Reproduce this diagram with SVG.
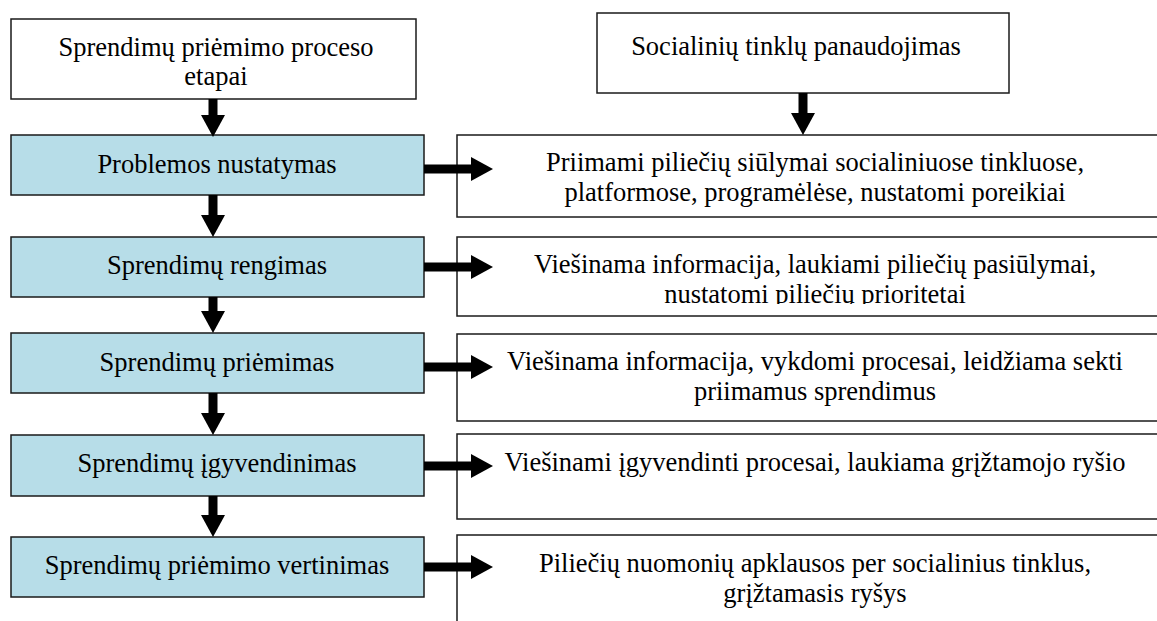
<svg xmlns="http://www.w3.org/2000/svg" width="1157" height="621" viewBox="0 0 1157 621">
<style>
text{font-family:'Liberation Serif','Times New Roman',Tinos,'DejaVu Serif','Noto Serif',serif;font-size:26.5px;fill:#000;text-anchor:middle}
.w{fill:#fff;stroke:#1a1a1a;stroke-width:1.5}
.b{fill:#b7dde8;stroke:#1a1a1a;stroke-width:1.5}
.a{stroke:#000;stroke-width:9;fill:none;marker-end:url(#ah)}
</style>
<defs>
<marker id="ah" viewBox="0 0 22 24" markerWidth="22" markerHeight="24" markerUnits="userSpaceOnUse" refX="0" refY="12" orient="auto">
<path d="M0,0 L22,12 L0,24 Z" fill="#000"/>
</marker>
<clipPath id="c2"><rect x="457" y="237" width="700" height="67"/></clipPath>
</defs>
<rect width="1157" height="621" fill="#fff"/>

<g id="stages-header" font-family="Liberation Serif, Times New Roman, serif"><rect class="w" x="11" y="19" width="405" height="80"/><text x="216" y="56">Sprendimų priėmimo proceso</text><text x="216" y="85">etapai</text></g>
<g id="social-header" font-family="Liberation Serif, Times New Roman, serif"><rect class="w" x="597" y="13" width="412" height="80"/><text x="796" y="55">Socialinių tinklų panaudojimas</text></g>

<g id="s1"><rect class="b" x="11" y="135" width="413" height="60"/><text x="217" y="173">Problemos nustatymas</text></g>
<g id="s2"><rect class="b" x="11" y="237" width="413" height="60"/><text x="217" y="274">Sprendimų rengimas</text></g>
<g id="s3"><rect class="b" x="11" y="333" width="413" height="60"/><text x="217" y="371">Sprendimų priėmimas</text></g>
<g id="s4"><rect class="b" x="11" y="435" width="413" height="61"/><text x="217" y="472">Sprendimų įgyvendinimas</text></g>
<g id="s5"><rect class="b" x="11" y="537" width="413" height="60"/><text x="217" y="574">Sprendimų priėmimo vertinimas</text></g>

<g id="r1"><rect class="w" x="457" y="135" width="720" height="82"/><text x="815" y="171">Priimami piliečių siūlymai socialiniuose tinkluose,</text><text x="815" y="201">platformose, programėlėse, nustatomi poreikiai</text></g>
<g id="r2"><rect class="w" x="457" y="237" width="720" height="79"/><g clip-path="url(#c2)"><text x="815" y="273">Viešinama informacija, laukiami piliečių pasiūlymai,</text><text x="815" y="303">nustatomi piliečių prioritetai</text></g></g>
<g id="r3"><rect class="w" x="457" y="334" width="720" height="87"/><text x="815" y="370">Viešinama informacija, vykdomi procesai, leidžiama sekti</text><text x="815" y="400">priimamus sprendimus</text></g>
<g id="r4"><rect class="w" x="457" y="434" width="720" height="85"/><text x="815" y="471">Viešinami įgyvendinti procesai, laukiama grįžtamojo ryšio</text></g>
<g id="r5"><rect class="w" x="457" y="535" width="720" height="120"/><text x="815" y="572">Piliečių nuomonių apklausos per socialinius tinklus,</text><text x="815" y="602">grįžtamasis ryšys</text></g>

<g id="connectors">
<line class="a" x1="213" y1="99" x2="213" y2="115"/>
<line class="a" x1="213" y1="195" x2="213" y2="215"/>
<line class="a" x1="213" y1="297" x2="213" y2="311"/>
<line class="a" x1="213" y1="393" x2="213" y2="413"/>
<line class="a" x1="213" y1="496" x2="213" y2="515"/>
<line class="a" x1="803" y1="93" x2="803" y2="113"/>
<line class="a" x1="424" y1="169" x2="471" y2="169"/>
<line class="a" x1="424" y1="267" x2="471" y2="267"/>
<line class="a" x1="424" y1="367" x2="471" y2="367"/>
<line class="a" x1="424" y1="466" x2="471" y2="466"/>
<line class="a" x1="424" y1="567" x2="471" y2="567"/>
</g>
</svg>
